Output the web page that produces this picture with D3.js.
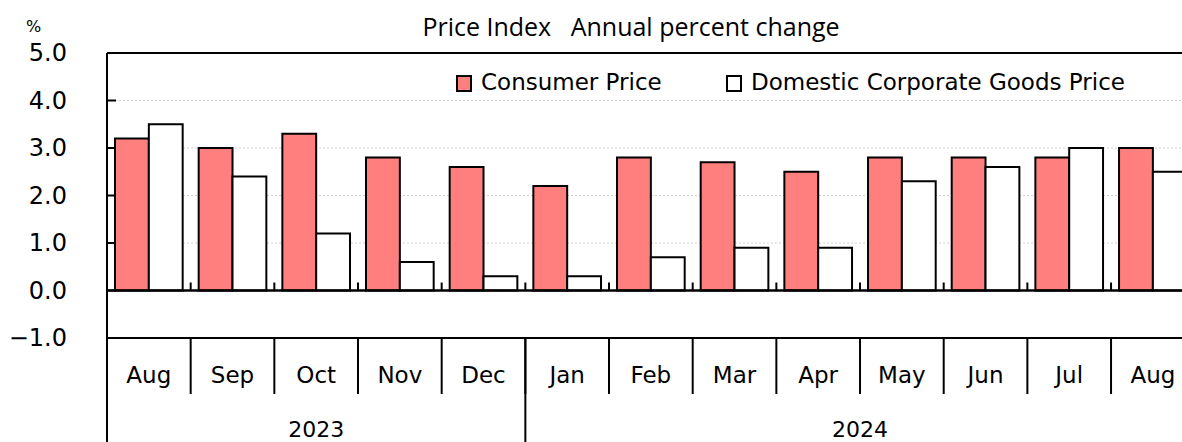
<!DOCTYPE html>
<html>
<head>
<meta charset="utf-8">
<script src="https://cdn.jsdelivr.net/npm/d3@7"></script>
<style>
  body { margin: 0; background: #fff; }
  svg { display: block; }
</style>
</head>
<body>
<script>
'use strict';

// chart data
const months = ["Aug", "Sep", "Oct", "Nov", "Dec", "Jan", "Feb", "Mar", "Apr", "May", "Jun", "Jul", "Aug"];
const years = [{label: "2023", from: 0, to: 5}, {label: "2024", from: 5, to: 13}];
const seriesNames = ["Consumer Price", "Domestic Corporate Goods Price"];
const consumerPrice = [3.2, 3.0, 3.3, 2.8, 2.6, 2.2, 2.8, 2.7, 2.5, 2.8, 2.8, 2.8, 3.0];
const corporateGoods = [3.5, 2.4, 1.2, 0.6, 0.3, 0.3, 0.7, 0.9, 0.9, 2.3, 2.6, 3.0, 2.5];
const yTicks = [-1, 0, 1, 2, 3, 4, 5];
const seriesColors = ["#ff7f7f", "#ffffff"];

(function() {
  const W = 1182, H = 442;
  const plotLeft = 107, plotTop = 53, plotBottom = 338;
  const plotRight = plotLeft + 13 * 83.67; // runs past the window edge

  const svg = d3.select("body").append("svg")
    .attr("width", W)
    .attr("height", H);

  const fontTick = "'DejaVu Sans', Verdana, sans-serif";
  const fontTitle = "'Open Sans', 'Noto Sans', sans-serif";

  // scales
  const y = d3.scaleLinear().domain([-1, 5]).range([plotBottom, plotTop]);
  const idx = d3.range(months.length);
  const x0 = d3.scaleBand().domain(idx).range([plotLeft, plotRight]);
  const x1 = d3.scaleBand().domain([0, 1]).range([8, x0.bandwidth() - 8]);

  // gridlines
  svg.append("g").selectAll("line")
    .data([1, 2, 3, 4])
    .join("line")
    .attr("x1", plotLeft).attr("x2", W)
    .attr("y1", d => y(d)).attr("y2", d => y(d))
    .attr("stroke", "#d0d0d0")
    .attr("stroke-dasharray", "2,2")
    .attr("stroke-width", 1);

  // bars
  const rows = idx.map(i => [consumerPrice[i], corporateGoods[i]]);
  const groups = svg.append("g").selectAll("g")
    .data(rows)
    .join("g")
    .attr("transform", (d, i) => `translate(${x0(i)},0)`);

  groups.selectAll("rect")
    .data(d => d.map((v, k) => ({v, k})))
    .join("rect")
    .attr("x", d => x1(d.k))
    .attr("width", x1.bandwidth())
    .attr("y", d => y(Math.max(0, d.v)))
    .attr("height", d => Math.abs(y(d.v) - y(0)))
    .attr("fill", d => seriesColors[d.k])
    .attr("stroke", "#000")
    .attr("stroke-width", 2);

  // frame: top border, bottom (-1) line, left axis
  svg.append("line")
    .attr("x1", plotLeft).attr("x2", W)
    .attr("y1", y(5)).attr("y2", y(5))
    .attr("stroke", "#000").attr("stroke-width", 2);

  svg.append("line")
    .attr("x1", plotLeft).attr("x2", W)
    .attr("y1", y(-1)).attr("y2", y(-1))
    .attr("stroke", "#000").attr("stroke-width", 2);

  svg.append("line")
    .attr("x1", plotLeft).attr("x2", plotLeft)
    .attr("y1", y(5)).attr("y2", H)
    .attr("stroke", "#000").attr("stroke-width", 2);

  // zero line
  svg.append("line")
    .attr("x1", plotLeft).attr("x2", W)
    .attr("y1", y(0)).attr("y2", y(0))
    .attr("stroke", "#000").attr("stroke-width", 2.5);

  // y ticks inward + labels
  const yAxis = svg.append("g");
  yAxis.selectAll("line")
    .data(yTicks)
    .join("line")
    .attr("x1", plotLeft).attr("x2", plotLeft + 9)
    .attr("y1", d => y(d)).attr("y2", d => y(d))
    .attr("stroke", "#000").attr("stroke-width", 2);

  yAxis.selectAll("text")
    .data(yTicks)
    .join("text")
    .attr("x", 67)
    .attr("y", d => y(d) + 8)
    .attr("text-anchor", "end")
    .attr("font-family", fontTick)
    .attr("font-size", 24)
    .text(d => d < 0 ? "\u2212" + Math.abs(d).toFixed(1) : d.toFixed(1));

  svg.append("text")
    .attr("x", 26).attr("y", 32)
    .attr("font-family", fontTick)
    .attr("font-size", 16)
    .text("%");

  // small boundary ticks above zero line
  svg.append("g").selectAll("line")
    .data(idx.slice(1))
    .join("line")
    .attr("x1", d => x0(d)).attr("x2", d => x0(d))
    .attr("y1", y(0) - 8).attr("y2", y(0))
    .attr("stroke", "#000").attr("stroke-width", 2);

  // month separators below plot
  svg.append("g").selectAll("line")
    .data(idx.slice(1))
    .join("line")
    .attr("x1", d => x0(d)).attr("x2", d => x0(d))
    .attr("y1", y(-1)).attr("y2", 394)
    .attr("stroke", "#000").attr("stroke-width", 2);

  // month labels
  svg.append("g").selectAll("text")
    .data(idx)
    .join("text")
    .attr("x", d => x0(d) + x0.bandwidth() / 2)
    .attr("y", 383)
    .attr("text-anchor", "middle")
    .attr("font-family", fontTick)
    .attr("font-size", 23)
    .text(d => months[d]);

  // year separators and labels
  svg.append("g").selectAll("line")
    .data(years.slice(1))
    .join("line")
    .attr("x1", d => x0(d.from)).attr("x2", d => x0(d.from))
    .attr("y1", y(-1)).attr("y2", H)
    .attr("stroke", "#000").attr("stroke-width", 2);

  svg.append("g").selectAll("text")
    .data(years)
    .join("text")
    .attr("x", d => (x0(d.from) + (d.to >= months.length ? plotRight : x0(d.to))) / 2)
    .attr("y", 437)
    .attr("text-anchor", "middle")
    .attr("font-family", fontTick)
    .attr("font-size", 22)
    .text(d => d.label);

  // title
  svg.append("text")
    .attr("x", 631).attr("y", 36)
    .attr("text-anchor", "middle")
    .attr("font-family", fontTitle)
    .attr("font-size", 25)
    .style("white-space", "pre")
    .text("Price Index   Annual percent change");

  // legend
  const legendX = [457, 727];
  const legend = svg.append("g").selectAll("g")
    .data(seriesNames)
    .join("g")
    .attr("transform", (d, i) => `translate(${legendX[i]},76)`);

  legend.append("rect")
    .attr("width", 14).attr("height", 15)
    .attr("fill", (d, i) => seriesColors[i])
    .attr("stroke", "#000").attr("stroke-width", 2);

  legend.append("text")
    .attr("x", 24).attr("y", 14)
    .attr("font-family", fontTick)
    .attr("font-size", 23)
    .text(d => d);
})();
</script>
</body>
</html>
